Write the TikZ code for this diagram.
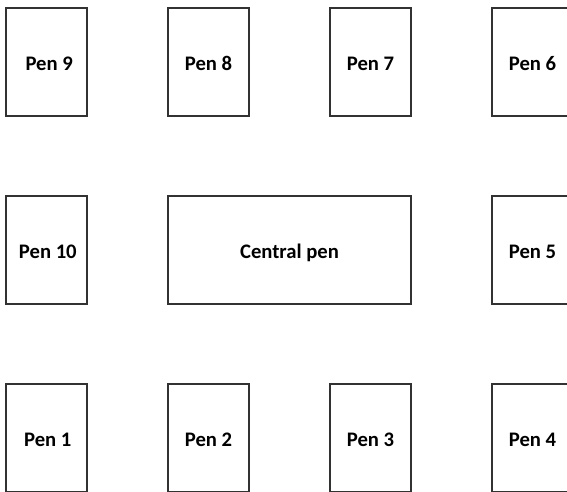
\documentclass[tikz,border=0pt]{standalone}
\usepackage{fontspec}
\setmainfont{Carlito}
\usepackage{tikz}
\usetikzlibrary{positioning}
\definecolor{penline}{RGB}{50,50,50}
\tikzset{pen/.style={draw=penline,line width=0.8pt,minimum width=81*0.75pt,minimum height=108*0.75pt,inner sep=0pt,text height=2.75ex,text depth=0.1ex,font=\bfseries\fontsize{15.5}{18}\selectfont}}

\begin{document}
\begin{tikzpicture}[x=0.75pt,y=-0.75pt]
\useasboundingbox (0,0) rectangle (567,492);
\clip (0,0) rectangle (567,492);
% top row
\node[pen] (p9) at (46.5,62) {\hspace{4pt}Pen 9};
\node[pen] (p8) at (208.5,62) {Pen 8};
\node[pen] (p7) at (370.5,62) {Pen 7};
\node[pen] (p6) at (532.5,62) {Pen 6};
% middle row
\node[pen] (p10) at (46.5,250) {\hspace{2pt}Pen 10};
\node[pen,minimum width=243*0.75pt] (cp) at (289.5,250) {Central pen};
\node[pen] (p5) at (532.5,250) {Pen 5};
% bottom row
\node[pen] (p1) at (46.5,438) {\hspace{2pt}Pen 1};
\node[pen] (p2) at (208.5,438) {Pen 2};
\node[pen] (p3) at (370.5,438) {Pen 3};
\node[pen] (p4) at (532.5,438) {Pen 4};
\end{tikzpicture}
\end{document}
